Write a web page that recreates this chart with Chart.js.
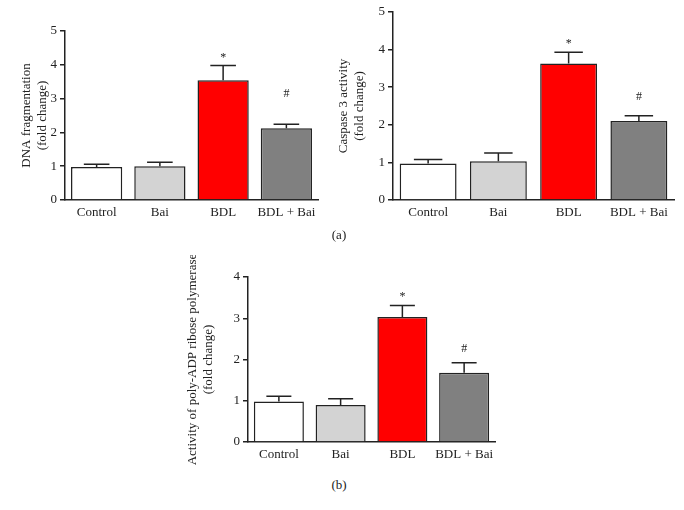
<!DOCTYPE html>
<html>
<head>
<meta charset="utf-8">
<script src="https://cdn.jsdelivr.net/npm/chart.js@4/dist/chart.umd.min.js"></script>
<style>
  html, body { margin: 0; padding: 0; background: #fff; }
  #page { position: relative; width: 684px; height: 510px; overflow: hidden; font-family: 'Liberation Serif', serif; }
  canvas { position: absolute; }
  .panel { position: absolute; font-size: 13px; color: #222; transform: translate(-50%, -50%); }
</style>
</head>
<body>
<div id="page">
  <canvas id="c_dna" width="330" height="225" style="left:0;top:0"></canvas>
  <canvas id="c_cas" width="359" height="225" style="left:325px;top:0"></canvas>
  <canvas id="c_parp" width="345" height="210" style="left:165px;top:255px"></canvas>
  <div class="panel" style="left:339px;top:235px">(a)</div>
  <div class="panel" style="left:339px;top:485px">(b)</div>
</div>
<script>
// ── Data ──
const categories = ['Control', 'Bai', 'BDL', 'BDL + Bai'];
const barColors  = ['#ffffff', '#d3d3d3', '#ff0000', '#808080'];

const dnaMeans  = [0.98, 1.00, 3.54, 2.12];
const dnaErr    = [0.08, 0.12, 0.44, 0.12];
const dnaMarks  = ['', '', '*', '#'];
const dnaMarkY  = [null, null, 4.22, 3.14];

const casMeans  = [0.97, 1.03, 3.63, 2.10];
const casErr    = [0.11, 0.22, 0.30, 0.14];
const casMarks  = ['', '', '*', '#'];
const casMarkY  = [null, null, 4.15, 2.75];

const parpMeans = [0.98, 0.90, 3.03, 1.68];
const parpErr   = [0.13, 0.15, 0.28, 0.24];
const parpMarks = ['', '', '*', '#'];
const parpMarkY = [null, null, 3.52, 2.25];

const FONT = "'Liberation Serif', 'DejaVu Serif', serif";
const INK  = '#222';

// error bars (upper only) + significance marks
const errorBarPlugin = {
    id: 'errorBars',
    afterDatasetsDraw(chart, args, opts) {
        const ctx  = chart.ctx;
        const yS   = chart.scales.y;
        const meta = chart.getDatasetMeta(0);
        ctx.save();
        ctx.strokeStyle = INK;
        ctx.lineWidth = 1.5;
        meta.data.forEach((bar, i) => {
            const top = yS.getPixelForValue(opts.means[i] + opts.err[i]);
            const half = bar.width * 0.25;
            ctx.beginPath();
            ctx.moveTo(bar.x, bar.y);
            ctx.lineTo(bar.x, top);
            ctx.moveTo(bar.x - half, top);
            ctx.lineTo(bar.x + half, top);
            ctx.stroke();
            if (opts.marks[i]) {
                ctx.fillStyle = INK;
                ctx.font = '12px ' + FONT;
                ctx.textAlign = 'center';
                ctx.textBaseline = 'middle';
                ctx.fillText(opts.marks[i], bar.x, yS.getPixelForValue(opts.markY[i]));
            }
        });
        ctx.restore();
    }
};

function makeChart(id, cfg) {
    return new Chart(document.getElementById(id), {
        type: 'bar',
        data: {
            labels: categories,
            datasets: [{
                data: cfg.means,
                backgroundColor: barColors,
                borderColor: INK,
                borderWidth: 1.5,
                barPercentage: 0.81,
                categoryPercentage: 1
            }]
        },
        plugins: [errorBarPlugin],
        options: {
            responsive: false,
            animation: false,
            devicePixelRatio: 1,
            layout: { padding: cfg.padding },
            plugins: {
                legend: { display: false },
                tooltip: { enabled: false },
                errorBars: { means: cfg.means, err: cfg.err, marks: cfg.marks, markY: cfg.markY }
            },
            scales: {
                x: {
                    afterFit: s => { s.height = cfg.xHeight; },
                    grid: { display: false, drawTicks: false },
                    border: { display: true, color: INK, width: 1.5 },
                    ticks: {
                        color: INK, padding: 5, maxRotation: 0, minRotation: 0, autoSkip: false,
                        font: { family: FONT, size: 13 }
                    }
                },
                y: {
                    min: 0, max: cfg.max,
                    afterFit: s => { s.width = cfg.yWidth; },
                    grid: { drawOnChartArea: false, drawTicks: true, tickLength: 5, color: INK, lineWidth: 1.5 },
                    border: { display: true, color: INK, width: 1.5 },
                    ticks: { stepSize: 1, color: INK, padding: 3, font: { family: FONT, size: 13 } },
                    title: {
                        display: true,
                        text: cfg.title,
                        color: INK,
                        font: { family: FONT, size: 13, lineHeight: 1.2 },
                        padding: { top: cfg.titlePad, bottom: 0 }
                    }
                }
            }
        }
    });
}

makeChart('c_dna', {
    means: dnaMeans, err: dnaErr, marks: dnaMarks, markY: dnaMarkY, max: 5,
    title: ['DNA fragmentation', '(fold change)'], titlePad: 19,
    yWidth: 65, xHeight: 25, padding: { top: 31, right: 12, left: 0, bottom: 0 }
});

makeChart('c_cas', {
    means: casMeans, err: casErr, marks: casMarks, markY: casMarkY, max: 5,
    title: ['Caspase 3 activity', '(fold change)'], titlePad: 11,
    yWidth: 68, xHeight: 25, padding: { top: 12, right: 10, left: 0, bottom: 0 }
});

makeChart('c_parp', {
    means: parpMeans, err: parpErr, marks: parpMarks, markY: parpMarkY, max: 4,
    title: ['Activity of poly-ADP ribose polymerase', '(fold change)'], titlePad: 20,
    yWidth: 83, xHeight: 23, padding: { top: 22, right: 15, left: 0, bottom: 0 }
});
</script>
</body>
</html>
